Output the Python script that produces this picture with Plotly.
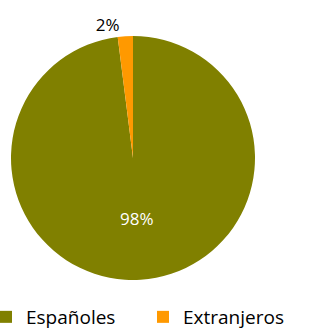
import plotly.graph_objects as go

labels = ["Españoles", "Extranjeros"]
values = [98, 2]
colors = ["#808000", "#FF9900"]
text_labels = ["98%", "2%"]

W, H = 312, 331
B = 33
PH = H - B

fig = go.Figure(go.Pie(
    labels=labels,
    values=values,
    marker=dict(colors=colors, line=dict(width=0)),
    sort=False,
    direction="clockwise",
    rotation=0,
    text=text_labels,
    textinfo="text",
    textposition=["inside", "outside"],
    insidetextorientation="horizontal",
    insidetextfont=dict(color="white", size=17),
    outsidetextfont=dict(color="black", size=17),
    hoverinfo="label+percent",
    domain=dict(x=[11 / W, 255 / W], y=[(PH - 280) / PH, (PH - 36) / PH]),
))

fig.update_layout(
    width=W, height=H,
    margin=dict(l=0, r=0, t=0, b=B, autoexpand=False),
    paper_bgcolor="white",
    font=dict(family="Open Sans, sans-serif", size=17, color="black"),
    showlegend=True,
    legend=dict(
        orientation="h",
        x=-14 / W, xanchor="left",
        y=0, yanchor="top",
        entrywidth=112, entrywidthmode="pixels",
        font=dict(size=19),
        itemwidth=30,
    ),
)

fig.write_html(
    "out.html",
    config={"displayModeBar": False},
    post_script="document.body.style.margin='0';",
)
